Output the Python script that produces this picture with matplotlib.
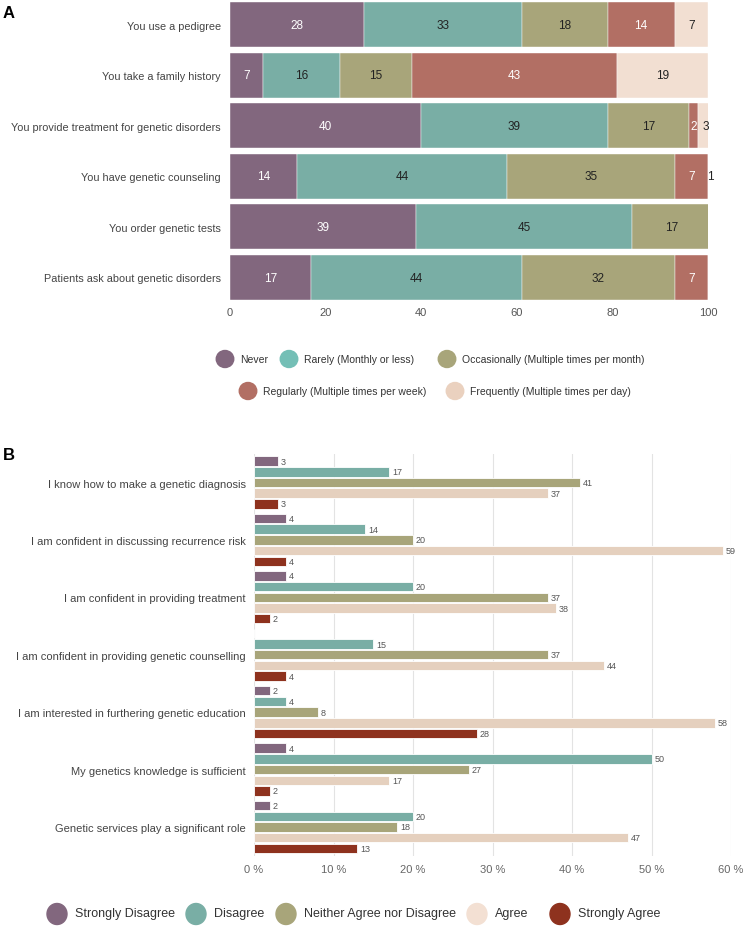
import matplotlib
matplotlib.use('Agg')
import matplotlib.pyplot as plt
from matplotlib.patches import Ellipse
import numpy as np

plt.rcParams['font.family'] = ['Liberation Sans', 'DejaVu Sans']

# ---------------- Panel A data ----------------
a_items = ["You use a pedigree", "You take a family history",
           "You provide treatment for genetic disorders", "You have genetic counseling",
           "You order genetic tests", "Patients ask about genetic disorders"]
a_cats = ["Never", "Rarely (Monthly or less)", "Occasionally (Multiple times per month)",
          "Regularly (Multiple times per week)", "Frequently (Multiple times per day)"]
a_never = [28, 7, 40, 14, 39, 17]
a_rarely = [33, 16, 39, 44, 45, 44]
a_occas = [18, 15, 17, 35, 17, 32]
a_regul = [14, 43, 2, 7, 0, 7]
a_frequ = [7, 19, 3, 1, 0, 0]
a_ticks = [0, 20, 40, 60, 80, 100]

# ---------------- Panel B data ----------------
b_items = ["I know how to make a genetic diagnosis",
           "I am confident in discussing recurrence risk",
           "I am confident in providing treatment",
           "I am confident in providing genetic counselling",
           "I am interested in furthering genetic education",
           "My genetics knowledge is sufficient",
           "Genetic services play a significant role"]
b_cats = ["Strongly Disagree", "Disagree", "Neither Agree nor Disagree", "Agree", "Strongly Agree"]
b_sd = [3, 4, 4, 0, 2, 4, 2]
b_d = [17, 14, 20, 15, 4, 50, 20]
b_n = [41, 20, 37, 37, 8, 27, 18]
b_a = [37, 59, 38, 44, 58, 17, 47]
b_sa = [3, 4, 2, 4, 28, 2, 13]
b_ticks = [0, 10, 20, 30, 40, 50, 60]
b_ticklabels = ["0 %", "10 %", "20 %", "30 %", "40 %", "50 %", "60 %"]

a_colors = ["#82677e", "#79aea5", "#a8a57a", "#b26f64", "#f2dfd2"]
a_legend_colors = ["#82677e", "#74bfb6", "#a8a57a", "#b26f64", "#ead1bf"]
a_textcol = ["white", "#222222", "#222222", "white", "#222222"]
b_colors = ["#82677e", "#79aea5", "#a8a57a", "#e5d0be", "#8e321e"]
b_legend_colors = ["#82677e", "#79aea5", "#a8a57a", "#f3e0d3", "#8e321e"]

W, H = 747, 929
fig = plt.figure(figsize=(W / 100, H / 100), dpi=100)


def ax_rect(x0, y0, x1, y1):
    return [x0 / W, 1 - y1 / H, (x1 - x0) / W, (y1 - y0) / H]


# ---------------- Panel A ----------------
axA = fig.add_axes(ax_rect(230, 0.2, 708, 303.8))
a_series = [a_never, a_rarely, a_occas, a_regul, a_frequ]
ya = np.arange(len(a_items))
left = np.zeros(len(a_items))
for k, vals in enumerate(a_series):
    vals = np.array(vals, dtype=float)
    axA.barh(ya, vals, left=left, height=0.89, color=a_colors[k],
             edgecolor='white', linewidth=0.3)
    for i, v in enumerate(vals):
        if v > 0:
            axA.text(left[i] + v / 2, ya[i], f"{int(v)}", ha='center', va='center',
                     fontsize=8.5, color=a_textcol[k])
    left += vals
axA.set_xlim(0, 100)
axA.set_ylim(len(a_items) - 0.5, -0.5)
axA.set_yticks(ya)
axA.set_yticklabels(a_items, fontsize=7.8, color='#444444')
axA.set_xticks(a_ticks)
axA.set_xticklabels([str(t) for t in a_ticks], fontsize=8, color='#555555')
axA.tick_params(length=0, axis='x', pad=3)
axA.tick_params(length=0, axis='y', pad=6.5)
for s in axA.spines.values():
    s.set_visible(False)

# ---------------- Panel B ----------------
axB = fig.add_axes(ax_rect(254, 454.8, 731, 856.7))
b_series = [b_sd, b_d, b_n, b_a, b_sa]
yb = np.arange(len(b_items))
step = 0.1864
for k, vals in enumerate(b_series):
    yy = yb + (k - 2) * step
    axB.barh(yy, vals, height=0.165, color=b_colors[k], edgecolor='white',
             linewidth=0.6, zorder=3)
    for i, v in enumerate(vals):
        if v > 0:
            axB.text(v + 0.35, yy[i], f"{v}", ha='left', va='center',
                     fontsize=6.5, color='#555555', zorder=4)
axB.set_xlim(0, 60)
axB.set_ylim(len(b_items) - 0.5, -0.5)
axB.set_yticks(yb)
axB.set_yticklabels(b_items, fontsize=8, color='#444444')
axB.set_xticks(b_ticks)
axB.set_xticklabels(b_ticklabels, fontsize=8, color='#666666')
axB.tick_params(length=0, axis='x', pad=6)
axB.tick_params(length=0, axis='y', pad=6)
axB.xaxis.grid(True, color='#e3e3e3', linewidth=0.8, zorder=0)
for s in axB.spines.values():
    s.set_visible(False)

# ---------------- overlay for legends & panel letters ----------------
ov = fig.add_axes([0, 0, 1, 1])
ov.set_xlim(0, W)
ov.set_ylim(H, 0)
ov.axis('off')
ov.patch.set_alpha(0)

ov.text(3, 13, "A", fontsize=12, fontweight='bold', ha='left', va='center', color='black')
ov.text(3, 456, "B", fontsize=12, fontweight='bold', ha='left', va='center', color='black')

legA_pos = [(225, 360), (289, 360), (447, 360), (248, 392), (455, 392)]
for k, (cx, cy) in enumerate(legA_pos):
    ov.add_patch(Ellipse((cx, cy), 17.5, 17, color=a_legend_colors[k]))
    ov.text(cx + 15, cy, a_cats[k], fontsize=7.5, ha='left', va='center', color='#333333')

legB_pos = [(57, 915), (196, 915), (286, 915), (477, 915), (560, 915)]
for k, (cx, cy) in enumerate(legB_pos):
    ov.add_patch(Ellipse((cx, cy), 20, 21, color=b_legend_colors[k]))
    ov.text(cx + 18, cy - 1, b_cats[k], fontsize=9, ha='left', va='center', color='#333333')

fig.savefig("out.png", dpi=100)
